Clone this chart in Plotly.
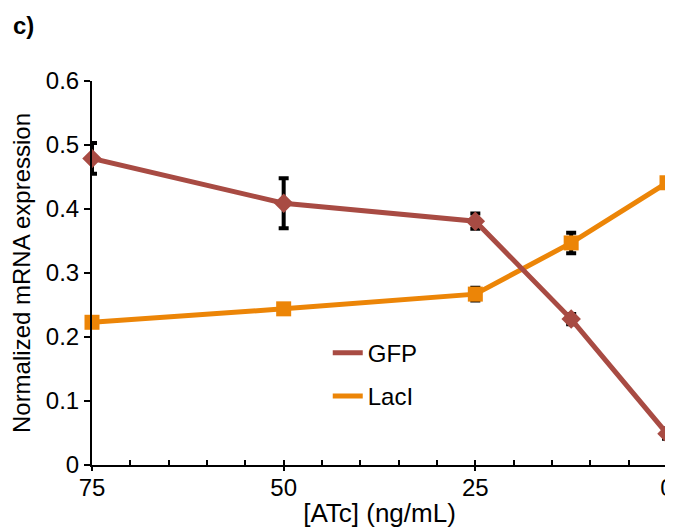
import plotly.graph_objects as go

atc = [75, 50, 25, 12.5, 0]
gfp = [0.479, 0.409, 0.381, 0.228, 0.049]
gfp_err = [0.024, 0.039, 0.012, 0.008, 0.008]
laci = [0.223, 0.244, 0.267, 0.347, 0.441]
laci_err = [0.004, 0.004, 0.010, 0.016, 0.006]
x_ticks = [75, 50, 25, 0]
y_ticks = [0, 0.1, 0.2, 0.3, 0.4, 0.5, 0.6]

GFP_COLOR = "#A84B43"
LACI_COLOR = "#EC8507"
FONT = "Liberation Sans, Arial, sans-serif"

fig = go.Figure()
fig.add_trace(go.Scatter(
    x=atc, y=laci, mode="lines+markers", name="LacI", showlegend=False,
    line=dict(color=LACI_COLOR, width=5),
    marker=dict(symbol="square", size=15, color=LACI_COLOR),
    error_y=dict(type="data", array=laci_err, color="black", thickness=4, width=5),
    cliponaxis=False,
))
fig.add_trace(go.Scatter(
    x=atc, y=gfp, mode="lines+markers", name="GFP", showlegend=False,
    line=dict(color=GFP_COLOR, width=5),
    marker=dict(symbol="diamond", size=15, color=GFP_COLOR),
    error_y=dict(type="data", array=gfp_err, color="black", thickness=4, width=5),
    cliponaxis=False,
))
# legend-only entries (lines only)
fig.add_trace(go.Scatter(x=[None], y=[None], mode="lines", name="GFP", xaxis="x2",
                         legendgroup="a", line=dict(color=GFP_COLOR, width=5)))
fig.add_trace(go.Scatter(x=[None], y=[None], mode="lines", name="LacI",
                         legendgroup="b", line=dict(color=LACI_COLOR, width=5)))

fig.update_layout(
    width=665, height=523,
    margin=dict(l=84, r=6, t=73, b=66),
    paper_bgcolor="white", plot_bgcolor="white",
    font=dict(family=FONT, size=23, color="black"),
    legend=dict(x=0.41, y=0.35, xanchor="left", yanchor="top",
                bgcolor="rgba(0,0,0,0)", font=dict(size=24),
                tracegroupgap=9, itemwidth=30),
    annotations=[dict(text="<b>c)</b>", x=-0.14, y=1.185, xref="paper", yref="paper",
                      xanchor="left", yanchor="top", showarrow=False,
                      font=dict(size=24, family=FONT))],
    xaxis2=dict(overlaying="x", anchor="y", side="bottom", range=[75, 0],
                tickvals=x_ticks, showticklabels=False, ticks="outside", ticklen=5,
                tickwidth=2, tickcolor="black", showline=False, showgrid=False,
                zeroline=False, automargin=False),
)
fig.layout.xaxis.update(
    range=[75, 0], tickvals=x_ticks, ticktext=[str(v) for v in x_ticks],
    showline=True, linecolor="black", linewidth=2, showgrid=False, zeroline=False,
    ticks="inside", ticklen=5, tickwidth=2, tickcolor="black",
    minor=dict(dtick=5, tick0=0, ticks="inside", ticklen=5, tickwidth=2, tickcolor="black", showgrid=False),
    title=dict(text="[ATc] (ng/mL)", standoff=4, font=dict(size=26)),
    tickfont=dict(size=24), automargin=False, ticklabeloverflow="allow",
)
fig.update_yaxes(
    range=[0, 0.6], tickvals=y_ticks,
    ticktext=["0", "0.1", "0.2", "0.3", "0.4", "0.5", "0.6"],
    showline=True, linecolor="black", linewidth=2, showgrid=False, zeroline=False,
    ticks="outside", ticklen=6, tickwidth=2, tickcolor="black",
    title=dict(text="Normalized mRNA expression", standoff=11, font=dict(size=24)),
    tickfont=dict(size=24), automargin=False,
)
fig.write_html("out.html")
